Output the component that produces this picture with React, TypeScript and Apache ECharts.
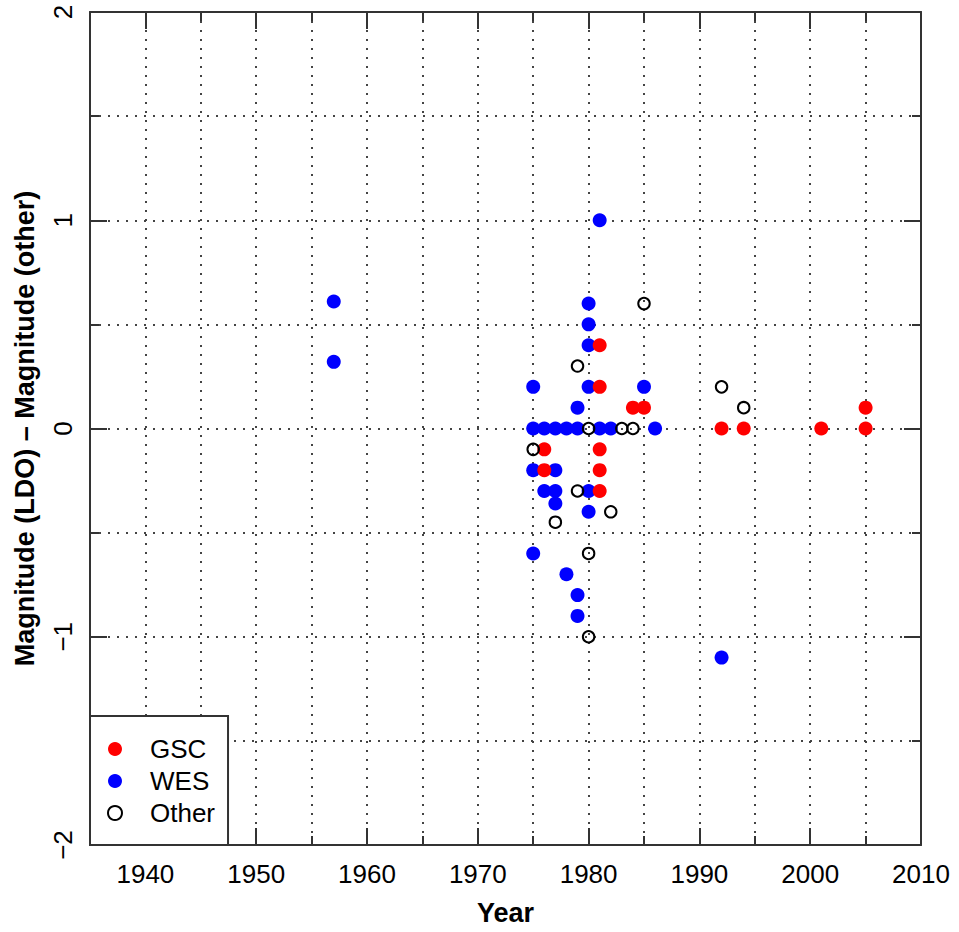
import React, { useEffect, useRef } from 'react';
import * as echarts from 'echarts';

// ---- Data ----
const gscYears = [1976, 1976, 1981, 1981, 1981, 1981, 1981, 1984, 1985, 1992, 1994, 2001, 2005, 2005];
const gscDiffs = [-0.1, -0.2, 0.4, 0.2, -0.1, -0.2, -0.3, 0.1, 0.1, 0, 0, 0, 0, 0.1];

const wesYears = [
  1957, 1957,
  1975, 1975, 1975, 1975,
  1976, 1976,
  1977, 1977, 1977, 1977,
  1978, 1978,
  1979, 1979, 1979, 1979,
  1980, 1980, 1980, 1980, 1980, 1980,
  1981, 1981,
  1982, 1985, 1986, 1992,
];
const wesDiffs = [
  0.61, 0.32,
  0.2, 0, -0.2, -0.6,
  0, -0.3,
  0, -0.2, -0.3, -0.36,
  0, -0.7,
  0.1, 0, -0.8, -0.9,
  0.6, 0.5, 0.4, 0.2, -0.3, -0.4,
  1.0, 0,
  0, 0.2, 0, -1.1,
];

const otherYears = [1975, 1977, 1979, 1979, 1980, 1980, 1980, 1982, 1983, 1984, 1985, 1992, 1994];
const otherDiffs = [-0.1, -0.45, 0.3, -0.3, 0, -0.6, -1.0, -0.4, 0, 0, 0.6, 0.2, 0.1];

const xMajorTicks = [1940, 1950, 1960, 1970, 1980, 1990, 2000, 2010];
const yMajorTicks = [-2, -1, 0, 1, 2];
const legendNames = ['GSC', 'WES', 'Other'];

const FONT = '"Liberation Sans", Arial, Helvetica, sans-serif';
const AXIS_COLOR = '#333333';

const pairs = (xs: number[], ys: number[]) => xs.map((x, i) => [x, ys[i]]);

export default function App() {
  const ref = useRef<HTMLDivElement>(null);

  useEffect(() => {
    if (!ref.current) return;
    const chart = echarts.init(ref.current, null, { renderer: 'svg' });

    const axisLine = { show: true, onZero: false, lineStyle: { color: AXIS_COLOR, width: 2 } };
    const majorTickStyle = { color: AXIS_COLOR, width: 2 };
    const gridLine = {
      show: true,
      lineStyle: { color: '#444444', width: 2, type: [2, 7] },
    };
    const xScale = { type: 'value', min: 1935, max: 2010, interval: 5 };
    const yScale = { type: 'value', min: -2, max: 2, interval: 0.5 };

    const option: any = {
      animation: false,
      backgroundColor: '#ffffff',
      grid: [
        { left: 90, right: 38, top: 12, bottom: 87, containLabel: false },
        { left: 90, right: 38, top: 12, bottom: 87, containLabel: false },
      ],
      xAxis: [
        {
          ...xScale,
          gridIndex: 0,
          position: 'bottom',
          axisLine,
          axisTick: { show: true, inside: true, length: 17, customValues: xMajorTicks, lineStyle: majorTickStyle },
          axisLabel: {
            show: true,
            customValues: xMajorTicks,
            fontSize: 26,
            color: '#000',
            fontFamily: FONT,
            margin: 16,
            formatter: (v: number) => String(v),
          },
          splitLine: { show: false },
          name: 'Year',
          nameLocation: 'middle',
          nameGap: 54,
          nameTextStyle: { fontSize: 27, fontWeight: 'bold', color: '#000', fontFamily: FONT },
        },
        {
          ...xScale,
          gridIndex: 0,
          position: 'top',
          axisLine,
          axisTick: { show: true, inside: true, length: 17, customValues: xMajorTicks, lineStyle: majorTickStyle },
          axisLabel: { show: false },
          splitLine: { show: false },
        },
        {
          ...xScale,
          gridIndex: 1,
          position: 'bottom',
          axisLine: { show: false, onZero: false },
          axisTick: { show: true, inside: true, length: 9, lineStyle: majorTickStyle },
          axisLabel: { show: false },
          splitLine: gridLine,
        },
        {
          ...xScale,
          gridIndex: 1,
          position: 'top',
          axisLine: { show: false, onZero: false },
          axisTick: { show: true, inside: true, length: 9, lineStyle: majorTickStyle },
          axisLabel: { show: false },
          splitLine: { show: false },
        },
      ],
      yAxis: [
        {
          ...yScale,
          gridIndex: 0,
          position: 'left',
          axisLine,
          axisTick: { show: true, inside: true, length: 17, customValues: yMajorTicks, lineStyle: majorTickStyle },
          axisLabel: {
            show: true,
            customValues: yMajorTicks,
            rotate: 90,
            fontSize: 26,
            color: '#000',
            fontFamily: FONT,
            margin: 14,
            formatter: (v: number) => (v < 0 ? '\u2212' + Math.abs(v) : String(v)),
          },
          splitLine: { show: false },
          name: 'Magnitude (LDO) \u2013 Magnitude (other)',
          nameLocation: 'middle',
          nameGap: 52,
          nameTextStyle: { fontSize: 27, fontWeight: 'bold', color: '#000', fontFamily: FONT },
        },
        {
          ...yScale,
          gridIndex: 0,
          position: 'right',
          axisLine,
          axisTick: { show: true, inside: true, length: 17, customValues: yMajorTicks, lineStyle: majorTickStyle },
          axisLabel: { show: false },
          splitLine: { show: false },
        },
        {
          ...yScale,
          gridIndex: 1,
          position: 'left',
          axisLine: { show: false, onZero: false },
          axisTick: { show: true, inside: true, length: 9, lineStyle: majorTickStyle },
          axisLabel: { show: false },
          splitLine: gridLine,
        },
        {
          ...yScale,
          gridIndex: 1,
          position: 'right',
          axisLine: { show: false, onZero: false },
          axisTick: { show: true, inside: true, length: 9, lineStyle: majorTickStyle },
          axisLabel: { show: false },
          splitLine: { show: false },
        },
      ],
      legend: {
        data: legendNames,
        orient: 'vertical',
        left: 90,
        top: 716,
        padding: [20, 13, 19, 17],
        itemGap: 6,
        itemWidth: 14,
        itemHeight: 14,
        backgroundColor: '#ffffff',
        borderColor: AXIS_COLOR,
        borderWidth: 2,
        borderRadius: 0,
        selectedMode: false,
        textStyle: {
          fontSize: 26,
          lineHeight: 26,
          color: '#000',
          fontFamily: FONT,
          padding: [0, 0, 0, 23],
        },
        z: 10,
      },
      series: [
        {
          type: 'scatter',
          name: 'WES',
          xAxisIndex: 0,
          yAxisIndex: 0,
          data: pairs(wesYears, wesDiffs),
          symbol: 'circle',
          symbolSize: 14,
          itemStyle: { color: '#0000ff', opacity: 1 },
        },
        {
          type: 'scatter',
          name: 'GSC',
          xAxisIndex: 0,
          yAxisIndex: 0,
          data: pairs(gscYears, gscDiffs),
          symbol: 'circle',
          symbolSize: 14,
          itemStyle: { color: '#ff0000', opacity: 1 },
        },
        {
          type: 'scatter',
          name: 'Other',
          xAxisIndex: 0,
          yAxisIndex: 0,
          data: pairs(otherYears, otherDiffs),
          symbol: 'circle',
          symbolSize: 11.5,
          itemStyle: { color: 'rgba(0,0,0,0)', borderColor: '#000000', borderWidth: 2, opacity: 1 },
        },
      ],
    };

    chart.setOption(option);
    return () => chart.dispose();
  }, []);

  return (
    <div
      ref={ref}
      style={{ position: 'absolute', left: 0, top: 0, width: 959, height: 932 }}
    />
  );
}
